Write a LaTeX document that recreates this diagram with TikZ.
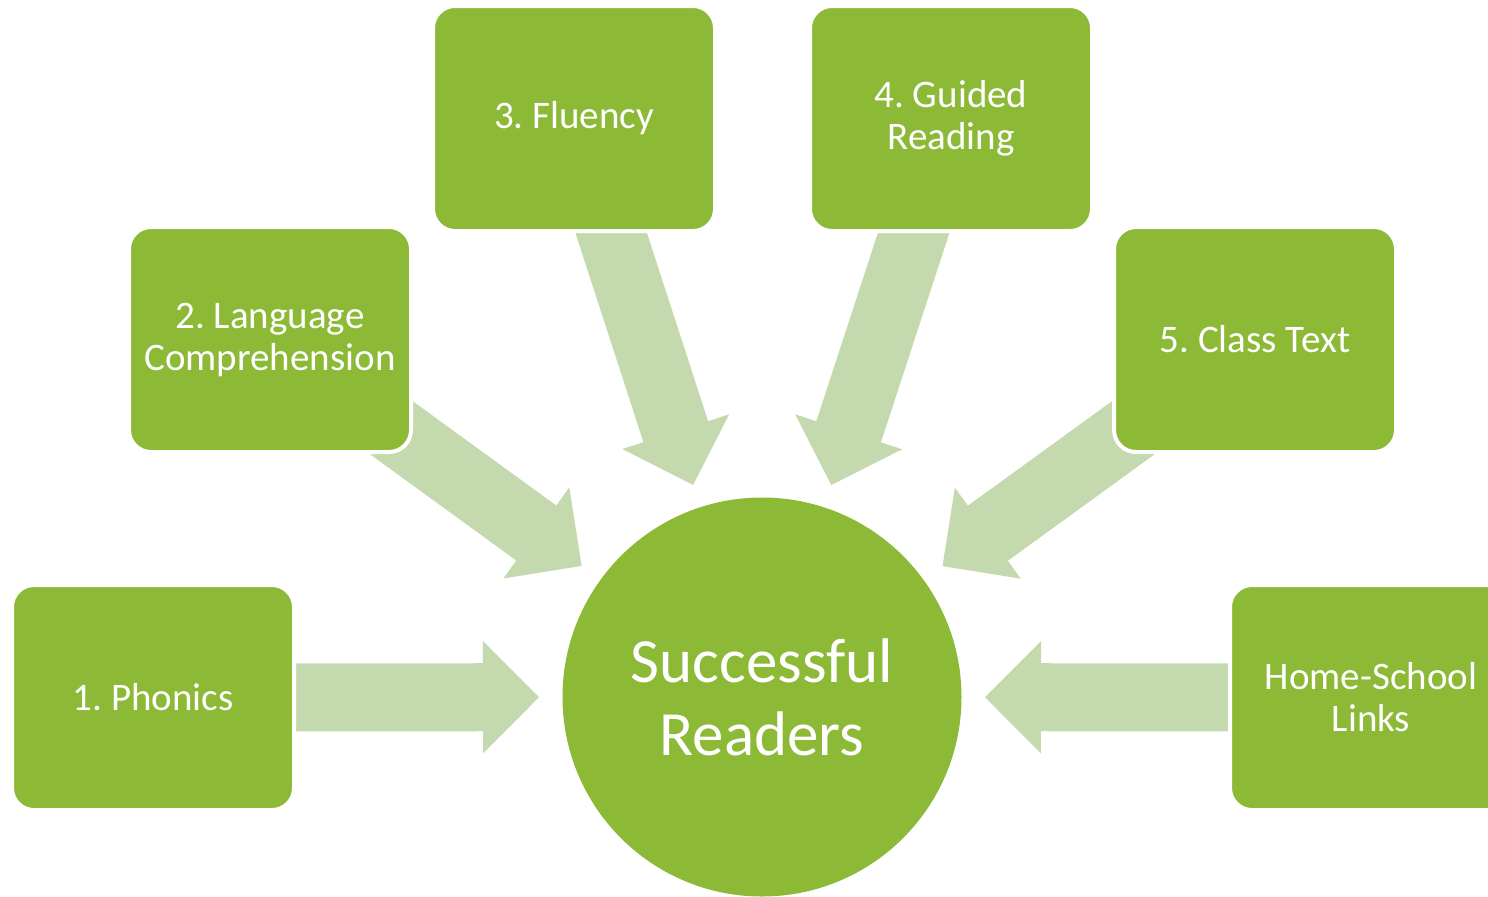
\documentclass[tikz,border=0pt]{standalone}
\usepackage{fontspec}
\setmainfont{Carlito}
\frenchspacing
\usetikzlibrary{arrows.meta, backgrounds}
\definecolor{readgreen}{HTML}{8CB936}
\definecolor{readpale}{HTML}{C5D9AF}

\begin{document}
\begin{tikzpicture}[x=0.5pt, y=-0.5pt,
        box/.style={rounded corners=11pt, fill=readgreen, draw=white, line width=2pt, text=white, align=center, minimum width=141pt, minimum height=112.5pt, inner sep=0pt, font=\fontsize{19.5}{21}\selectfont},
        hub/.style={circle, fill=readgreen, text=white, align=center, minimum size=199.5pt, inner sep=0pt, font=\fontsize{31.5}{36.5}\selectfont},
        spoke/.style={draw=readpale, line width=34pt, -{Triangle[length=28pt, width=56pt, line width=1pt]}, shorten <=#1, shorten >=111.5pt}
    ]
      \useasboundingbox (0,0) rectangle (1488,896);
      \node[hub] (readers) at (762,697) {Successful\\Readers};
      \node[box] (phonics) at (153,697.5) {1. Phonics};
      \node[box] (language) at (270,339.5) {2. Language\\Comprehension};
      \node[box] (fluency) at (574,118.5) {3. Fluency};
      \node[box] (guided) at (951,118.5) {4. Guided\\Reading};
      \node[box] (classtext) at (1255,339.5) {5. Class Text};
      \node[box] (home) at (1371,697.5) {Home-School\\Links};
      \begin{scope}[on background layer]
        \fill[white] (0,0) rectangle (1488,896);
        \draw[spoke=68pt] (phonics.center) -- (readers.center);
        \draw[spoke=65pt] (language.center) -- (readers.center);
        \draw[spoke=50pt] (fluency.center) -- (readers.center);
        \draw[spoke=50pt] (guided.center) -- (readers.center);
        \draw[spoke=65pt] (classtext.center) -- (readers.center);
        \draw[spoke=68pt] (home.center) -- (readers.center);
      \end{scope}
\end{tikzpicture}
\end{document}
